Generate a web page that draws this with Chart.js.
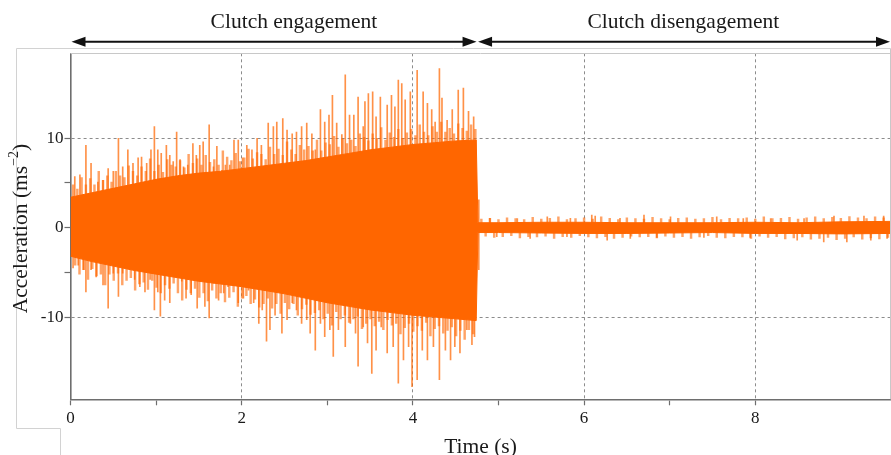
<!DOCTYPE html>
<html>
<head>
<meta charset="utf-8">
<script src="https://cdn.jsdelivr.net/npm/chart.js@4.4.1/dist/chart.umd.min.js"></script>
<style>
  html, body { margin: 0; padding: 0; background: #fff; }
  #wrap { position: relative; width: 891px; height: 455px; }
</style>
</head>
<body>
<div id="wrap"><canvas id="chart"></canvas></div>
<script>
// dense part of the acceleration signal: upper / lower edge of the solid band (s, m/s^2)
const envT   = [0, 0.25, 0.5, 0.75, 1.0, 1.25, 1.5, 1.75, 2.0, 2.25, 2.5, 2.75, 3.0, 3.25, 3.5, 3.75, 4.0, 4.25, 4.5, 4.74,
                4.76, 5.0, 5.5, 6.0, 6.5, 7.0, 7.5, 8.0, 8.5, 9.0, 9.58];
const envTop = [3.4, 3.9, 4.4, 4.9, 5.4, 5.8, 6.1, 6.3, 6.6, 6.9, 7.2, 7.5, 7.9, 8.3, 8.7, 9.0, 9.3, 9.5, 9.7, 9.8,
                0.55, 0.55, 0.6, 0.6, 0.55, 0.55, 0.55, 0.6, 0.55, 0.65, 0.7];
const envBot = [-3.2, -3.8, -4.3, -4.8, -5.2, -5.6, -6.0, -6.3, -6.6, -7.0, -7.4, -7.9, -8.4, -8.8, -9.2, -9.5, -9.8, -10.0, -10.2, -10.4,
                -0.55, -0.55, -0.6, -0.65, -0.65, -0.6, -0.55, -0.65, -0.65, -0.7, -0.65];

// short ripples along the edge of the band, sampled every 0.05 s (engagement) and 0.1 s (disengagement)
const rippleUpV = [4.8, 4.3, 5.6, 4.8, 5.5, 4.8, 6.3, 5.3, 5.8, 5.1, 6.3, 5.8, 5.6, 6.9, 6.3, 5.8, 6.8, 6.3, 7.7, 6.3,
                   7.0, 6.2, 7.6, 7.0, 6.8, 7.5, 6.7, 8.2, 7.2, 7.7, 7.0, 8.1, 7.3, 7.6, 7.0, 8.6, 7.9, 7.5, 8.3, 7.4,
                   7.8, 8.8, 7.7, 8.4, 8.2, 7.6, 9.0, 8.2, 8.8, 8.1, 9.6, 8.7, 8.2, 9.2, 8.7, 9.1, 8.6, 9.8, 8.6, 9.5,
                   9.3, 10.2, 9.0, 9.9, 9.4, 9.8, 9.1, 10.5, 10.1, 9.7, 10.5, 10.0, 11.2, 9.8, 10.6, 10.1, 11.0, 10.0, 10.6, 11.0,
                   10.3, 11.5, 10.7, 10.3, 11.3, 10.7, 11.8, 10.7, 11.1, 10.5, 11.6, 11.1, 10.8, 11.5, 11.0];
const rippleDnV = [-4.2, -5.2, -4.7, -5.8, -4.6, -5.4, -5.2, -6.4, -5.2, -5.9, -5.1, -6.4, -5.9, -5.6, -7.0, -6.3, -6.1, -6.9, -5.9, -6.7,
                   -7.3, -6.4, -6.8, -6.2, -7.3, -8.1, -6.9, -7.3, -6.8, -7.8, -7.3, -8.2, -7.0, -7.9, -7.3, -8.3, -7.8, -7.2, -8.8, -7.9,
                   -7.6, -8.5, -8.0, -8.9, -8.5, -7.9, -9.0, -8.5, -9.6, -8.4, -9.1, -8.5, -9.8, -9.1, -8.6, -9.7, -9.5, -9.2, -10.2, -9.6,
                   -10.9, -9.4, -10.2, -9.8, -10.6, -10.2, -9.9, -11.3, -10.7, -10.2, -11.0, -10.5, -11.4, -10.3, -10.9, -10.7, -11.9, -11.2, -10.7, -11.6,
                   -11.0, -11.5, -10.6, -12.1, -11.3, -11.0, -11.8, -11.5, -11.1, -12.1, -11.5, -12.5, -11.4, -11.9];
const rippleTailUpV = [0.95, 1.05, 0.9, 1.1, 1.0, 0.9, 1.15, 0.95, 1.05, 1.2, 0.9, 1.0, 1.1, 0.95, 1.2, 1.05, 0.9, 1.1, 1.0, 0.95,
                       1.15, 1.0, 0.9, 1.05, 1.1, 0.95, 1.0, 1.15, 0.9, 1.05, 1.0, 1.1, 0.95, 1.2, 1.0, 1.05, 1.15, 0.95, 1.1, 1.2,
                       1.0, 1.15, 1.05, 1.25, 1.1, 1.0, 1.2, 1.1];
const rippleTailDnV = [-0.95, -1.1, -1.0, -0.9, -1.15, -1.0, -1.05, -0.95, -1.2, -1.0, -1.1, -0.9, -1.05, -1.15, -1.0, -1.2, -1.1, -0.95, -1.05, -1.0,
                       -1.15, -0.95, -1.1, -1.0, -1.2, -1.05, -0.9, -1.1, -1.15, -1.0, -1.05, -1.2, -0.95, -1.1, -1.0, -1.25, -1.15, -1.05, -1.3, -1.2,
                       -1.1, -1.35, -1.2, -1.05, -1.3, -1.15, -1.25, -1.1];
const rippleStart = { up: 0.03, dn: 0.055, tailUp: 4.80, tailDn: 4.85 };

// single tall peaks
const peakUpT = [0.05, 0.11, 0.18, 0.24, 0.32, 0.38, 0.44, 0.50, 0.56, 0.61, 0.67, 0.73, 0.79, 0.83, 0.89, 0.94, 0.98, 1.02, 1.06, 1.12,
                 1.16, 1.20, 1.24, 1.28, 1.32, 1.37, 1.43, 1.47, 1.51, 1.55, 1.62, 1.67, 1.71, 1.77, 1.81, 1.86, 1.91, 1.96, 2.01, 2.06,
                 2.12, 2.18, 2.23, 2.31, 2.37, 2.41, 2.48, 2.53, 2.59, 2.64, 2.70, 2.76, 2.82, 2.86, 2.92, 2.97, 3.02, 3.06, 3.11, 3.17,
                 3.21, 3.26, 3.31, 3.36, 3.42, 3.44, 3.48, 3.53, 3.57, 3.62, 3.70, 3.75, 3.79, 3.83, 3.87, 3.91, 3.97, 4.05, 4.12, 4.17,
                 4.22, 4.26, 4.31, 4.34, 4.40, 4.46, 4.53, 4.59, 4.65, 4.71, 4.77,
                 4.90, 5.22, 5.57, 5.84, 6.09, 6.13, 6.42, 6.70, 7.01, 7.55, 7.86, 8.18, 8.57, 8.92, 9.27, 9.50];
const peakUpV = [5.7, 5.9, 9.2, 7.2, 5.1, 5.3, 6.6, 6.3, 10.0, 6.8, 8.7, 7.2, 7.8, 7.9, 7.2, 8.7, 11.3, 8.7, 8.3, 9.2,
                 8.1, 7.4, 10.7, 7.6, 6.8, 7.0, 9.4, 8.1, 9.2, 9.6, 11.5, 6.8, 9.1, 6.4, 7.0, 7.0, 9.8, 9.8, 7.8, 9.2,
                 8.7, 10.0, 9.2, 11.7, 11.3, 11.8, 12.2, 10.9, 10.5, 10.7, 11.3, 11.7, 10.5, 8.7, 13.2, 11.8, 12.6, 14.8, 11.7, 10.4,
                 17.1, 12.6, 12.6, 14.6, 11.3, 14.1, 15.0, 15.2, 12.4, 14.6, 13.7, 14.8, 13.5, 16.5, 16.1, 14.3, 15.2, 17.6, 15.2, 13.9,
                 13.2, 11.8, 17.8, 14.5, 12.0, 13.2, 15.4, 15.6, 13.0, 12.4, 3.1,
                 1.05, 1.0, 1.2, 1.05, 1.4, 1.3, 1.05, 1.4, 1.2, 1.2, 1.0, 1.0, 1.0, 1.3, 1.3, 1.3];
const peakDnT = [0.03, 0.09, 0.15, 0.18, 0.24, 0.30, 0.38, 0.44, 0.50, 0.56, 0.61, 0.69, 0.75, 0.81, 0.87, 0.93, 0.98, 1.02, 1.05, 1.10,
                 1.16, 1.24, 1.30, 1.35, 1.41, 1.48, 1.53, 1.57, 1.62, 1.67, 1.73, 1.79, 1.84, 1.96, 2.02, 2.08, 2.14, 2.20, 2.24, 2.29,
                 2.33, 2.39, 2.47, 2.53, 2.59, 2.64, 2.70, 2.76, 2.80, 2.86, 2.92, 2.97, 3.03, 3.07, 3.13, 3.21, 3.27, 3.33, 3.36, 3.42,
                 3.47, 3.52, 3.57, 3.63, 3.70, 3.77, 3.83, 3.89, 3.95, 3.99, 4.05, 4.11, 4.17, 4.24, 4.31, 4.38, 4.44, 4.49, 4.55, 4.63,
                 4.69, 4.72, 4.77,
                 4.98, 5.37, 5.80, 6.27, 6.54, 6.85, 7.40, 7.94, 8.49, 8.80, 9.07, 9.35, 9.54];
const peakDnV = [-4.5, -4.2, -4.7, -7.2, -4.7, -5.5, -6.4, -9.0, -5.1, -7.7, -5.1, -4.7, -5.8, -6.6, -7.2, -5.8, -9.2, -7.2, -9.9, -8.1,
                 -8.4, -4.7, -6.0, -7.9, -7.5, -9.0, -5.8, -8.8, -10.1, -6.2, -8.1, -7.3, -6.6, -8.4, -7.9, -7.0, -8.4, -10.7, -9.2, -12.7,
                 -11.4, -9.8, -11.8, -10.3, -8.4, -9.2, -10.7, -10.3, -11.8, -13.7, -10.7, -12.2, -11.4, -14.4, -11.4, -13.3, -10.7, -11.8, -15.5, -11.1,
                 -12.9, -16.3, -13.7, -11.1, -14.0, -13.3, -17.4, -14.8, -13.3, -17.8, -17.0, -13.7, -14.8, -13.3, -17.0, -13.7, -14.8, -13.3, -14.0, -11.4,
                 -13.1, -12.2, -4.7,
                 -1.0, -1.2, -1.0, -1.4, -1.2, -1.1, -1.1, -1.1, -1.4, -1.6, -1.6, -1.4, -1.2];

const xTicks  = [0, 1, 2, 3, 4, 5, 6, 7, 8];
const xLabels = ['0', '', '2', '', '4', '', '6', '', '8'];
const yTicks  = [-10, -5, 0, 5, 10];
const yLabels = ['-10', '', '0', '', '10'];

const phases     = ['Clutch engagement', 'Clutch disengagement'];
const phaseEnds  = [0, 4.75, 9.58];
const phaseTextT = [2.61, 7.16];

const ORANGE = '#ff6600';
const GRID = '#8c8c8c';
const AXIS = '#6e6e6e';
const TEXT = '#1a1a1a';
const SERIF = '"Liberation Serif", "Times New Roman", serif';

const bandTop = envT.map((t, i) => ({ x: t, y: envTop[i] }));
const bandBot = envT.map((t, i) => ({ x: t, y: envBot[i] }));

const bar = (t, v) => ({ x: t, y: v > 0 ? [0, v] : [v, 0] });
const ripples = [].concat(
  rippleUpV.map((v, i) => bar(rippleStart.up + 0.05 * i, v)),
  rippleDnV.map((v, i) => bar(rippleStart.dn + 0.05 * i, v)),
  rippleTailUpV.map((v, i) => bar(rippleStart.tailUp + 0.1 * i, v)),
  rippleTailDnV.map((v, i) => bar(rippleStart.tailDn + 0.1 * i, v))
);
const peaks = peakUpT.map((t, i) => bar(t, peakUpV[i]))
  .concat(peakDnT.map((t, i) => bar(t, peakDnV[i])));

function arrowHead(ctx, x, y, dir) {
  ctx.beginPath();
  ctx.moveTo(x, y);
  ctx.lineTo(x + dir * 14, y - 5);
  ctx.lineTo(x + dir * 14, y + 5);
  ctx.closePath();
  ctx.fill();
}

function doubleArrow(ctx, x1, x2, y) {
  ctx.beginPath();
  ctx.moveTo(x1 + 8, y);
  ctx.lineTo(x2 - 8, y);
  ctx.stroke();
  arrowHead(ctx, x1, y, 1);
  arrowHead(ctx, x2, y, -1);
}

const decor = {
  id: 'decor',
  beforeDraw(chart) {
    // light outer frame of the figure
    const ctx = chart.ctx;
    ctx.save();
    ctx.strokeStyle = '#d2d2d2';
    ctx.lineWidth = 1;
    ctx.beginPath();
    ctx.moveTo(60.5, 455);
    ctx.lineTo(60.5, 428.5);
    ctx.lineTo(16.5, 428.5);
    ctx.lineTo(16.5, 48.5);
    ctx.lineTo(890.5, 48.5);
    ctx.stroke();
    ctx.restore();
  },
  afterDraw(chart) {
    const ctx = chart.ctx;
    const area = chart.chartArea;
    const xs = chart.scales.x;
    ctx.save();

    // top and right edge of the plot box
    ctx.strokeStyle = '#c8c8c8';
    ctx.lineWidth = 1;
    ctx.beginPath();
    ctx.moveTo(area.left, 53.5);
    ctx.lineTo(890.5, 53.5);
    ctx.moveTo(890.5, 48.5);
    ctx.lineTo(890.5, area.bottom);
    ctx.stroke();

    // phase arrows and labels
    ctx.strokeStyle = '#111';
    ctx.fillStyle = '#111';
    ctx.lineWidth = 2;
    const y = 41.7;
    doubleArrow(ctx, xs.getPixelForValue(phaseEnds[0]) + 1, xs.getPixelForValue(phaseEnds[1]) - 0.5, y);
    doubleArrow(ctx, xs.getPixelForValue(phaseEnds[1]) + 1, xs.getPixelForValue(phaseEnds[2]) - 0.5, y);

    ctx.fillStyle = TEXT;
    ctx.font = '21.5px ' + SERIF;
    ctx.textAlign = 'center';
    ctx.textBaseline = 'alphabetic';
    phases.forEach((p, i) => ctx.fillText(p, xs.getPixelForValue(phaseTextT[i]), 28.3));

    // x axis title
    ctx.fillText('Time (s)', (area.left + area.right) / 2, 452.5);

    // y axis title with superscript
    const main = '21.5px ' + SERIF;
    const sup = '14px ' + SERIF;
    const a = 'Acceleration (ms', s = '\u22122', b = ')';
    ctx.font = main;
    const wa = ctx.measureText(a).width, wb = ctx.measureText(b).width;
    ctx.font = sup;
    const ws = ctx.measureText(s).width;
    ctx.translate(26.7, 228.5);
    ctx.rotate(-Math.PI / 2);
    ctx.textAlign = 'left';
    let x = -(wa + ws + wb) / 2;
    ctx.font = main;
    ctx.fillText(a, x, 0);
    x += wa;
    ctx.font = sup;
    ctx.fillText(s, x, -8.5);
    x += ws;
    ctx.font = main;
    ctx.fillText(b, x, 0);
    ctx.restore();
  }
};

new Chart(document.getElementById('chart'), {
  type: 'bar',
  data: {
    datasets: [
      { type: 'line', data: bandTop, borderColor: ORANGE, backgroundColor: ORANGE, borderWidth: 1,
        pointRadius: 0, fill: '+1', tension: 0 },
      { type: 'line', data: bandBot, borderColor: ORANGE, borderWidth: 1, pointRadius: 0, fill: false, tension: 0 },
      { data: peaks, backgroundColor: 'rgba(255,102,0,0.72)', barThickness: 1, borderWidth: 0, stack: 'sig' },
      { data: ripples, backgroundColor: 'rgba(255,102,0,0.6)', barThickness: 1.8, borderWidth: 0, stack: 'sig' }
    ]
  },
  options: {
    responsive: true, maintainAspectRatio: false, animation: false, devicePixelRatio: 1,
    layout: { padding: { left: 0, right: 0.5, top: 53.3, bottom: 0 } },
    plugins: { legend: { display: false }, tooltip: { enabled: false } },
    scales: {
      x: {
        type: 'linear', min: 0, max: 9.58, offset: false, z: 1,
        afterBuildTicks: s => { s.ticks = xTicks.map(v => ({ value: v })); },
        afterFit: s => { s.height = 55.7; },
        grid: {
          offset: false, lineWidth: 1, tickColor: AXIS, tickLength: 6, tickWidth: 1.2,
          color: c => (c.tick && c.tick.value > 0 && c.tick.value % 2 === 0) ? GRID : 'transparent'
        },
        border: { color: AXIS, width: 1.6, dash: [3, 3] },
        ticks: {
          autoSkip: false, maxRotation: 0, padding: 3, color: TEXT,
          font: { family: SERIF, size: 17 },
          callback: (v, i) => xLabels[i]
        }
      },
      y: {
        type: 'linear', min: -19.2, max: 19.5, stacked: false, z: 1,
        afterBuildTicks: s => { s.ticks = yTicks.map(v => ({ value: v })); },
        afterFit: s => { s.width = 70.5; },
        grid: {
          lineWidth: 1, tickColor: AXIS, tickLength: 6, tickWidth: 1.2,
          color: c => (c.tick && Math.abs(c.tick.value) === 10) ? GRID : 'transparent'
        },
        border: { color: AXIS, width: 1.6, dash: [3, 3] },
        ticks: {
          padding: 1, color: TEXT,
          font: { family: SERIF, size: 17 },
          callback: (v, i) => yLabels[i]
        }
      }
    }
  },
  plugins: [decor]
});
</script>
</body>
</html>
